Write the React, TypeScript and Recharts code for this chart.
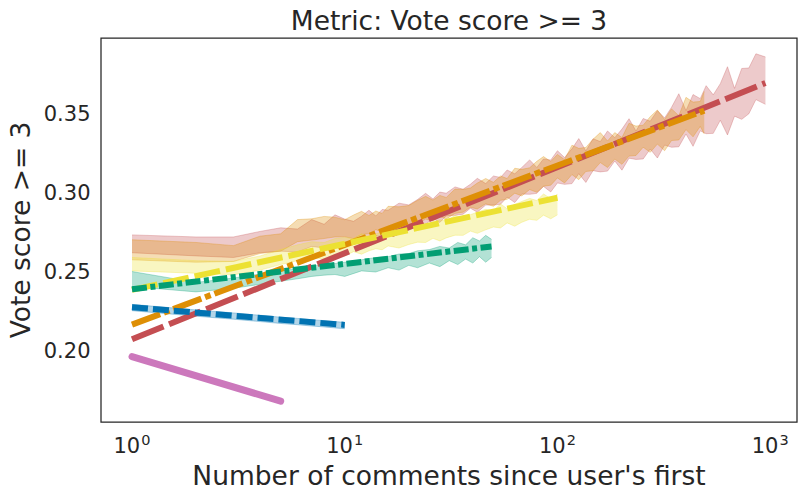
import React from 'react';
import { ComposedChart, Line, Area, XAxis, YAxis, ReferenceArea } from 'recharts';

const FONT = '"DejaVu Sans", "Liberation Sans", sans-serif';
const INK = '#262626';

const TITLE = 'Metric: Vote score >= 3';
const X_LABEL = "Number of comments since user's first";
const Y_LABEL = 'Vote score >= 3';

const X_TICKS = [1, 10, 100, 1000];
const X_TICK_EXPONENTS = ['0', '1', '2', '3'];
const Y_TICKS = [0.2, 0.25, 0.3, 0.35];
const X_DOMAIN = [0.715, 1337];
const Y_DOMAIN = [0.1548, 0.398];

const COLORS = {
  red: '#C44E52',
  orange: '#DE8F05',
  yellow: '#ECE133',
  green: '#029E73',
  blue: '#0173B2',
  pink: '#CC78BC',
};

// fitted lines: [x, y]
const FIT_RED = [[1, 0.2072], [950, 0.3695]];
const FIT_ORANGE = [[1, 0.2165], [490, 0.352]];
const FIT_YELLOW = [[1, 0.2385], [100, 0.2968]];
const FIT_GREEN = [[1, 0.2389], [49, 0.266]];
const FIT_BLUE = [[1, 0.2275], [10, 0.2163]];
const FIT_PINK = [[1, 0.1962], [5, 0.168]];

// confidence bands: [x, low, high]
const RED_BAND = [
  [1, 0.262, 0.2733], [2, 0.26, 0.272], [3, 0.259, 0.272], [4, 0.262, 0.2755], [5, 0.263, 0.2778],
  [6, 0.2625, 0.277], [7, 0.266, 0.283], [8, 0.265, 0.28], [9, 0.268, 0.286], [10, 0.2663, 0.2833],
  [11, 0.2703, 0.2819], [12, 0.2681, 0.2851], [13, 0.2725, 0.2889], [14, 0.2725, 0.2853], [15, 0.273, 0.2894],
  [16, 0.2763, 0.2889], [18, 0.2744, 0.2934], [20, 0.2791, 0.2923], [22, 0.2793, 0.2957], [24, 0.28, 0.2996],
  [26, 0.2837, 0.2961], [28, 0.2812, 0.3004], [30, 0.2853, 0.2997], [33, 0.2857, 0.3037], [36, 0.2864, 0.3022],
  [39, 0.2902, 0.3054], [42, 0.2877, 0.3091], [46, 0.2922, 0.3058], [50, 0.2922, 0.3106], [54, 0.2927, 0.3097],
  [58, 0.2972, 0.3144], [63, 0.2938, 0.312], [68, 0.2992, 0.316], [74, 0.299, 0.3208], [80, 0.2996, 0.316],
  [86, 0.304, 0.3214], [93, 0.3005, 0.3207], [100, 0.3062, 0.3266], [108, 0.3053, 0.3223], [117, 0.3058, 0.3278],
  [126, 0.3121, 0.3343], [136, 0.3065, 0.3265], [147, 0.314, 0.3342], [159, 0.3132, 0.3324], [172, 0.3137, 0.3391],
  [186, 0.3201, 0.3349], [201, 0.3143, 0.3403], [217, 0.3219, 0.3469], [234, 0.3211, 0.3391], [253, 0.3214, 0.347],
  [273, 0.3277, 0.3453], [295, 0.322, 0.352], [319, 0.3302, 0.3474], [344, 0.3288, 0.3542], [372, 0.3291, 0.3627],
  [402, 0.3372, 0.352], [434, 0.3294, 0.3622], [469, 0.3392, 0.3596], [500, 0.3374, 0.3678], [540, 0.3376, 0.362],
  [583, 0.3459, 0.3691], [630, 0.3366, 0.3798], [680, 0.3485, 0.3661], [735, 0.3465, 0.3787], [794, 0.35, 0.379],
  [857, 0.359, 0.388], [950, 0.356, 0.386],
];

const ORANGE_BAND = [
  [1, 0.2575, 0.2702], [2, 0.256, 0.2685], [3, 0.2565, 0.2665], [4, 0.2615, 0.2725], [5, 0.263, 0.274],
  [6, 0.269, 0.283], [7, 0.27, 0.2835], [8, 0.271, 0.285], [9, 0.272, 0.2845], [10, 0.2721, 0.2829],
  [11, 0.2709, 0.2859], [12, 0.2736, 0.2882], [13, 0.274, 0.2856], [14, 0.2766, 0.2884], [15, 0.2751, 0.2869],
  [16, 0.2776, 0.2914], [18, 0.2765, 0.2911], [20, 0.2795, 0.2919], [22, 0.2802, 0.2952], [24, 0.2833, 0.2977],
  [26, 0.282, 0.2954], [28, 0.2849, 0.2983], [30, 0.2834, 0.297], [33, 0.2869, 0.3023], [36, 0.2877, 0.3021],
  [39, 0.2908, 0.303], [42, 0.2897, 0.3061], [46, 0.293, 0.309], [50, 0.2914, 0.3066], [54, 0.2952, 0.3106],
  [58, 0.2958, 0.309], [63, 0.2997, 0.3155], [68, 0.298, 0.3148], [74, 0.302, 0.3158], [80, 0.3003, 0.3199],
  [86, 0.3041, 0.3229], [93, 0.3048, 0.3198], [100, 0.3094, 0.3242], [108, 0.3062, 0.321], [117, 0.3115, 0.3301],
  [126, 0.3083, 0.3281], [136, 0.3135, 0.3287], [147, 0.3139, 0.3339], [159, 0.3191, 0.3381], [172, 0.316, 0.3328],
  [186, 0.3213, 0.3381], [201, 0.318, 0.335], [217, 0.3232, 0.344], [234, 0.3236, 0.3422], [253, 0.3288, 0.3428],
  [273, 0.3256, 0.3482], [295, 0.3308, 0.3524], [319, 0.3266, 0.3464], [344, 0.3331, 0.3531], [372, 0.3334, 0.3488],
  [402, 0.34, 0.3604], [434, 0.3354, 0.3574], [469, 0.342, 0.3578], [490, 0.3372, 0.3642],
];

const YELLOW_BAND = [
  [1, 0.2505, 0.259], [2, 0.249, 0.257], [3, 0.248, 0.2565], [4, 0.251, 0.26], [5, 0.2545, 0.264],
  [6, 0.257, 0.267], [7, 0.259, 0.269], [8, 0.258, 0.2685], [9, 0.261, 0.271], [10, 0.2599, 0.2717],
  [11, 0.2627, 0.2709], [12, 0.2611, 0.2741], [13, 0.2632, 0.272], [14, 0.2645, 0.2739], [15, 0.2639, 0.2753],
  [16, 0.2663, 0.2765], [18, 0.265, 0.276], [20, 0.2672, 0.2796], [22, 0.2687, 0.2777], [24, 0.2685, 0.2799],
  [26, 0.2711, 0.2815], [28, 0.2695, 0.2829], [30, 0.2714, 0.282], [33, 0.2731, 0.2857], [36, 0.273, 0.2838],
  [39, 0.2757, 0.2861], [42, 0.2743, 0.2877], [46, 0.2765, 0.2895], [50, 0.2783, 0.2887], [54, 0.2777, 0.2929],
  [58, 0.2809, 0.2899], [63, 0.2788, 0.2926], [68, 0.2813, 0.2945], [74, 0.2832, 0.2964], [80, 0.2825, 0.2951],
  [86, 0.2858, 0.2992], [93, 0.2835, 0.2963], [100, 0.286, 0.299],
];

const GREEN_BAND = [
  [1, 0.2406, 0.2501], [2, 0.2372, 0.2432], [3, 0.2395, 0.246], [4, 0.242, 0.2485], [5, 0.244, 0.2505],
  [6, 0.2455, 0.252], [7, 0.247, 0.2535], [8, 0.2478, 0.2545], [9, 0.2482, 0.2552], [10, 0.247, 0.256],
  [12, 0.2505, 0.2575], [14, 0.2498, 0.259], [16, 0.2525, 0.2595], [18, 0.251, 0.2612], [20, 0.254, 0.2615],
  [22, 0.2525, 0.2632], [25, 0.2555, 0.264], [28, 0.2532, 0.266], [31, 0.257, 0.265], [34, 0.2545, 0.2685],
  [37, 0.258, 0.267], [40, 0.2555, 0.2715], [43, 0.2595, 0.2695], [46, 0.256, 0.273], [49, 0.259, 0.2705],
];

const BLUE_BAND = [
  [1, 0.2253, 0.2293], [2, 0.2218, 0.2258], [3, 0.2199, 0.2239], [4, 0.2184, 0.2224], [5, 0.2172, 0.2212],
  [6, 0.2164, 0.2204], [7, 0.2156, 0.2196], [8, 0.215, 0.219], [9, 0.2144, 0.2184], [10, 0.2139, 0.2179],
];

const PINK_BAND = [
  [1, 0.1953, 0.1968], [2, 0.1826, 0.1842], [3, 0.1755, 0.177], [4, 0.1706, 0.172], [5, 0.167, 0.1684],
];

const toBand = (rows: number[][]) => rows.map(([x, lo, hi]) => ({ x, r: [lo, hi] }));
const toFit = (rows: number[][]) => rows.map(([x, y]) => ({ x, y }));

const BANDS = [
  { key: 'bandRed', data: toBand(RED_BAND), color: COLORS.red },
  { key: 'bandOrange', data: toBand(ORANGE_BAND), color: COLORS.orange },
  { key: 'bandYellow', data: toBand(YELLOW_BAND), color: COLORS.yellow },
  { key: 'bandGreen', data: toBand(GREEN_BAND), color: COLORS.green },
  { key: 'bandBlue', data: toBand(BLUE_BAND), color: COLORS.blue },
  { key: 'bandPink', data: toBand(PINK_BAND), color: COLORS.pink },
];

const FITS = [
  { key: 'fitRed', data: toFit(FIT_RED), color: COLORS.red, dash: '34 6', width: 6, cap: 'butt' },
  { key: 'fitOrange', data: toFit(FIT_ORANGE), color: COLORS.orange, dash: '30 4 6 4', width: 6, cap: 'butt' },
  { key: 'fitYellow', data: toFit(FIT_YELLOW), color: COLORS.yellow, dash: '26 6', width: 6, cap: 'butt' },
  { key: 'fitGreen', data: toFit(FIT_GREEN), color: COLORS.green, dash: '15 3.5 5 3.5', width: 6, cap: 'butt' },
  { key: 'fitBlue', data: toFit(FIT_BLUE), color: COLORS.blue, dash: '16 5', width: 6, cap: 'butt' },
  { key: 'fitPink', data: toFit(FIT_PINK), color: COLORS.pink, dash: undefined, width: 7, cap: 'round' },
];

const XTick = (props: any) => {
  const { x, payload } = props;
  const idx = X_TICKS.indexOf(payload.value);
  const exp = idx >= 0 ? X_TICK_EXPONENTS[idx] : '';
  return (
    <text x={x} y={453} textAnchor="middle" fontFamily={FONT} fontSize={21} fill={INK}>
      <tspan>10</tspan>
      <tspan dx={1} dy={-8} fontSize={14.5}>{exp}</tspan>
    </text>
  );
};

const YTick = (props: any) => {
  const { y, payload } = props;
  return (
    <text x={90.5} y={y} dy="0.36em" textAnchor="end" fontFamily={FONT} fontSize={21} fill={INK}>
      {payload.value.toFixed(2)}
    </text>
  );
};

export default function App() {
  return (
    <div style={{ position: 'absolute', left: 0, top: 0, width: 808, height: 499, background: '#fff' }}>
      <ComposedChart width={808} height={499} margin={{ top: 38, right: 11, bottom: 0, left: 0 }}>
        <XAxis
          dataKey="x"
          type="number"
          scale="log"
          domain={X_DOMAIN}
          allowDataOverflow
          ticks={X_TICKS}
          interval={0}
          height={77}
          axisLine={false}
          tickLine={false}
          tick={<XTick />}
        />
        <YAxis
          type="number"
          domain={Y_DOMAIN}
          allowDataOverflow
          ticks={Y_TICKS}
          interval={0}
          width={101}
          axisLine={false}
          tickLine={false}
          tick={<YTick />}
        />
        {BANDS.map((b) => (
          <Area
            key={b.key}
            data={b.data}
            dataKey="r"
            type="linear"
            fill={b.color}
            fillOpacity={0.3}
            stroke={b.color}
            strokeOpacity={0.3}
            strokeWidth={1}
            dot={false}
            activeDot={false}
            isAnimationActive={false}
          />
        ))}
        {FITS.map((f) => (
          <Line
            key={f.key}
            data={f.data}
            dataKey="y"
            type="linear"
            stroke={f.color}
            strokeWidth={f.width}
            strokeDasharray={f.dash}
            strokeLinecap={f.cap as any}
            dot={false}
            activeDot={false}
            isAnimationActive={false}
          />
        ))}
        <ReferenceArea
          x1={X_DOMAIN[0]}
          x2={X_DOMAIN[1]}
          y1={Y_DOMAIN[0]}
          y2={Y_DOMAIN[1]}
          fill="none"
          fillOpacity={0}
          stroke={INK}
          strokeWidth={1.25}
          ifOverflow="visible"
        />
      </ComposedChart>
      <svg
        width={808}
        height={499}
        style={{ position: 'absolute', left: 0, top: 0, pointerEvents: 'none' }}
      >
        <text x={449} y={30} textAnchor="middle" fontFamily={FONT} fontSize={26.5} fill={INK}>
          {TITLE}
        </text>
        <text x={449} y={485} textAnchor="middle" fontFamily={FONT} fontSize={26.5} fill={INK}>
          {X_LABEL}
        </text>
        <text
          x={29.5}
          y={230}
          textAnchor="middle"
          fontFamily={FONT}
          fontSize={26.5}
          fill={INK}
          transform="rotate(-90 29.5 230)"
        >
          {Y_LABEL}
        </text>
      </svg>
    </div>
  );
}
